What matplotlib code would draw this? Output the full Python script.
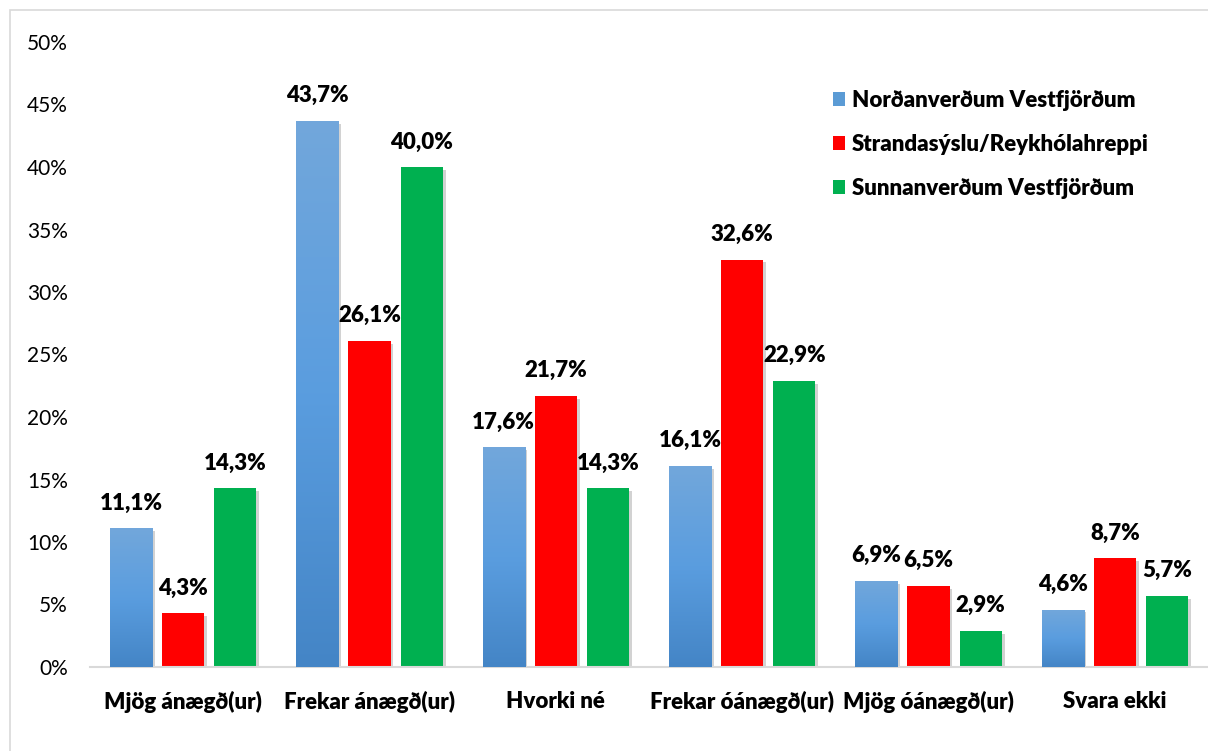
import matplotlib
matplotlib.use("Agg")
import matplotlib.pyplot as plt
import matplotlib.patheffects as pe
from matplotlib.patches import Rectangle, Patch
from matplotlib.colors import LinearSegmentedColormap
import numpy as np

categories = ["Mjög ánægð(ur)", "Frekar ánægð(ur)", "Hvorki né",
              "Frekar óánægð(ur)", "Mjög óánægð(ur)", "Svara ekki"]
series_names = ["Norðanverðum Vestfjörðum",
                "Strandasýslu/Reykhólahreppi",
                "Sunnanverðum Vestfjörðum"]
nordan = [11.1, 43.7, 17.6, 16.1, 6.9, 4.6]
stranda = [4.3, 26.1, 21.7, 32.6, 6.5, 8.7]
sunnan = [14.3, 40.0, 14.3, 22.9, 2.9, 5.7]
yticks = [0, 5, 10, 15, 20, 25, 30, 35, 40, 45, 50]

colors = ["#5b9bd5", "#ff0000", "#00b050"]
plt.rcParams['font.family'] = ['Lato', 'DejaVu Sans']
BW = "heavy"

fig = plt.figure(figsize=(12.08, 7.51), dpi=100)
fig.patches.append(Rectangle((10 / 1208, -0.1), 1.2, (751 - 10) / 751 + 0.1,
                             transform=fig.transFigure, fill=False,
                             edgecolor="#d9d9d9", linewidth=1.2))

ax = fig.add_axes([90 / 1208, 84 / 751, 1118 / 1208, 625 / 751])
x = np.arange(len(categories))
w = 0.226
offs = [-0.28, 0.0, 0.28]
data = [nordan, stranda, sunnan]
shadow = [pe.SimplePatchShadow(offset=(2, -2), shadow_rgbFace="#7f7f7f", alpha=0.35), pe.Normal()]

grad = np.linspace(0, 1, 256).reshape(-1, 1)
bcmap = LinearSegmentedColormap.from_list("b", ["#4485c6", "#5a9ddf", "#72a7db"])

for i, (vals, c) in enumerate(zip(data, colors)):
    bars = ax.bar(x + offs[i], vals, width=w, color=c, zorder=2)
    for b, v in zip(bars, vals):
        b.set_path_effects(shadow)
        if i == 0:
            x0 = b.get_x()
            im = ax.imshow(grad, extent=[x0, x0 + w, 0, v], origin="lower",
                           cmap=bcmap, aspect="auto", zorder=3)
            im.set_clip_path(b)
        ax.annotate(f"{v:.1f}".replace(".", ",") + "%",
                    (b.get_x() + w / 2, v), xytext=(0, 25),
                    textcoords="offset pixels", ha="center", va="center",
                    fontsize=16, fontweight=BW, color="#000000", zorder=4)

ax.set_xlim(-0.5, len(categories) - 0.5)
ax.set_ylim(0, 50)
ax.set_yticks(yticks)
ax.set_yticklabels([f"{t}%" for t in yticks], fontsize=15, color="#000000")
ax.set_xticks(x)
ax.set_xticklabels(categories, fontsize=16, fontweight=BW)
ax.tick_params(axis="y", length=0, pad=16)
ax.tick_params(axis="x", length=0, pad=17)
for s in ["left", "right", "top"]:
    ax.spines[s].set_visible(False)
ax.spines["bottom"].set_color("#d9d9d9")
ax.spines["bottom"].set_linewidth(1.5)
ax.set_facecolor("none")

handles = [Patch(facecolor=c) for c in colors]
leg = ax.legend(handles, series_names, loc="upper left",
                bbox_to_anchor=(813 / 1208, 1 - 70 / 751), bbox_transform=fig.transFigure,
                frameon=False, handlelength=0.55, handleheight=0.55,
                handletextpad=0.3, labelspacing=1.03,
                prop={"size": 16, "weight": BW})

fig.savefig("out.png", dpi=100)
